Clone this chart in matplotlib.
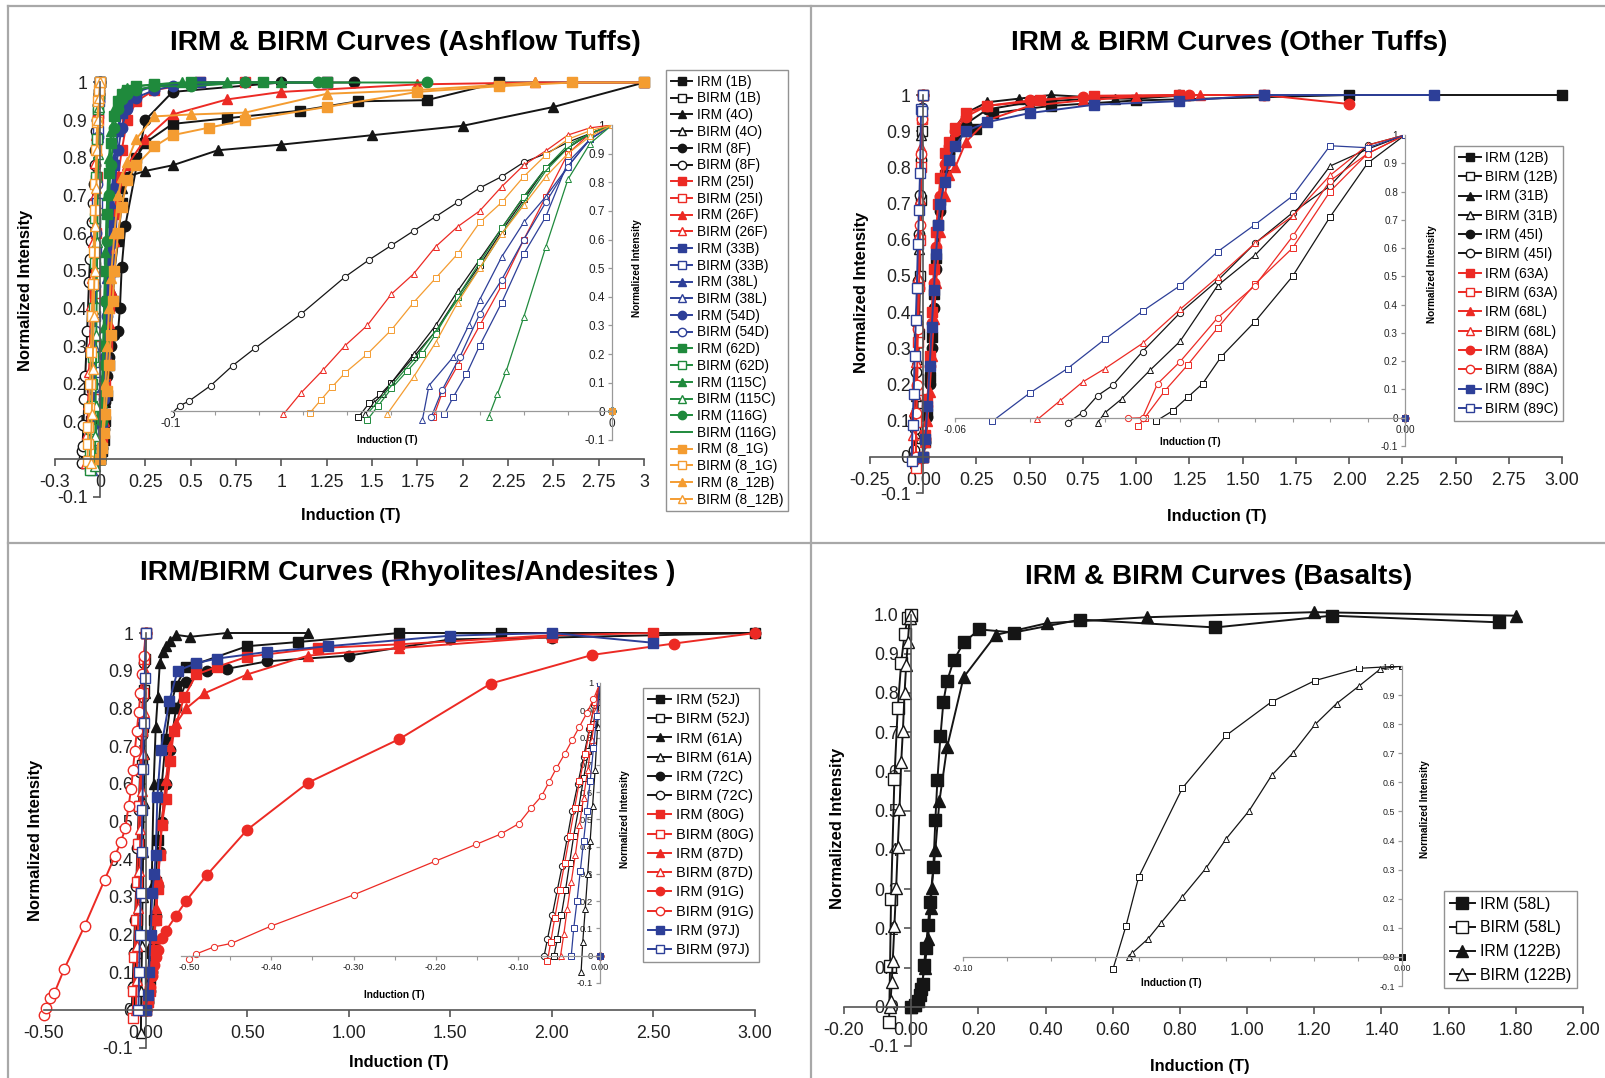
import matplotlib
matplotlib.use('Agg')
import matplotlib.pyplot as plt
from matplotlib import font_manager
from matplotlib.lines import Line2D

W, H = 1606, 1078

# ---------------- data: Ashflow Tuffs ----------------
irm_1b_x = [0, 0.01, 0.02, 0.03, 0.04, 0.05, 0.06, 0.07, 0.08, 0.1, 0.12, 0.15, 0.2, 0.25, 0.4, 0.7, 1.1, 1.42, 1.8, 2.2, 3.0]
irm_1b_y = [0, 0.02, 0.05, 0.1, 0.17, 0.25, 0.33, 0.42, 0.5, 0.58, 0.68, 0.75, 0.8, 0.84, 0.89, 0.905, 0.925, 0.95, 0.953, 1.0, 1.0]
birm_1b_x = [-0.0575, -0.055, -0.0525, -0.05, -0.045, -0.04, -0.035, -0.03, -0.025, -0.02, -0.015, -0.01, -0.005, 0]
birm_1b_y = [-0.02, 0.03, 0.06, 0.1, 0.19, 0.28, 0.4, 0.51, 0.63, 0.74, 0.85, 0.92, 0.97, 1.0]
irm_4o_x = [0, 0.01, 0.02, 0.03, 0.04, 0.05, 0.06, 0.08, 0.1, 0.12, 0.15, 0.25, 0.4, 0.65, 1.0, 1.5, 2.0, 2.5, 3.0]
irm_4o_y = [0, 0.03, 0.08, 0.15, 0.25, 0.35, 0.45, 0.6, 0.68, 0.72, 0.75, 0.765, 0.78, 0.82, 0.835, 0.86, 0.885, 0.935, 1.0]
birm_4o_x = [-0.056, -0.054, -0.052, -0.05, -0.045, -0.04, -0.035, -0.03, -0.025, -0.02, -0.015, -0.01, -0.005, 0]
birm_4o_y = [-0.01, 0.03, 0.06, 0.1, 0.2, 0.3, 0.42, 0.53, 0.64, 0.75, 0.85, 0.92, 0.97, 1.0]
irm_8f_x = [0, 0.01, 0.02, 0.03, 0.04, 0.05, 0.06, 0.08, 0.1, 0.11, 0.12, 0.14, 0.25, 0.4, 1.0, 1.4]
irm_8f_y = [0, 0.03, 0.08, 0.15, 0.22, 0.27, 0.3, 0.33, 0.34, 0.4, 0.51, 0.62, 0.9, 0.975, 1.0, 1.0]
birm_8f_x = [-0.1, -0.098, -0.096, -0.091, -0.086, -0.081, -0.0705, -0.0605, -0.055, -0.05, -0.045, -0.04, -0.035, -0.03, -0.025, -0.02, -0.015, -0.01, -0.005, 0]
birm_8f_y = [-0.01, 0.02, 0.035, 0.09, 0.16, 0.22, 0.34, 0.47, 0.53, 0.58, 0.63, 0.68, 0.73, 0.78, 0.82, 0.87, 0.9, 0.94, 0.97, 1.0]
irm_25i_x = [0, 0.01, 0.02, 0.03, 0.04, 0.05, 0.06, 0.08, 0.1, 0.12, 0.15, 0.2, 0.3, 0.55, 0.8, 1.25]
irm_25i_y = [0, 0.05, 0.12, 0.2, 0.3, 0.4, 0.5, 0.65, 0.75, 0.82, 0.9, 0.95, 0.98, 1.0, 1.0, 1.0]
birm_25i_x = [-0.0405, -0.0385, -0.035, -0.03, -0.025, -0.02, -0.015, -0.01, -0.005, 0]
birm_25i_y = [-0.02, 0.065, 0.16, 0.3, 0.44, 0.6, 0.75, 0.9, 0.97, 1.0]
irm_26f_x = [0, 0.01, 0.02, 0.03, 0.04, 0.05, 0.06, 0.08, 0.1, 0.12, 0.15, 0.25, 0.4, 0.7, 1.0, 1.75, 2.4, 3.0]
irm_26f_y = [0, 0.04, 0.1, 0.18, 0.27, 0.36, 0.45, 0.58, 0.68, 0.74, 0.78, 0.85, 0.915, 0.955, 0.975, 0.995, 1.0, 1.0]
birm_26f_x = [-0.0745, -0.0705, -0.0655, -0.0605, -0.0555, -0.05, -0.045, -0.04, -0.035, -0.03, -0.025, -0.02, -0.015, -0.01, -0.005, 0]
birm_26f_y = [-0.01, 0.065, 0.145, 0.23, 0.3, 0.41, 0.48, 0.575, 0.645, 0.7, 0.785, 0.86, 0.91, 0.965, 0.99, 1.0]
irm_33b_x = [0, 0.01, 0.02, 0.03, 0.04, 0.05, 0.06, 0.08, 0.1, 0.12, 0.15, 0.2, 0.3, 0.55, 1.25]
irm_33b_y = [0, 0.08, 0.18, 0.3, 0.42, 0.53, 0.63, 0.78, 0.87, 0.92, 0.95, 0.975, 0.99, 1.0, 1.0]
birm_33b_x = [-0.038, -0.036, -0.033, -0.03, -0.025, -0.02, -0.015, -0.01, -0.005, 0]
birm_33b_y = [-0.01, 0.05, 0.13, 0.23, 0.38, 0.55, 0.68, 0.87, 0.95, 1.0]
irm_38l_x = [0, 0.01, 0.02, 0.03, 0.04, 0.05, 0.06, 0.08, 0.1, 0.12, 0.15, 0.2, 0.3, 0.55, 1.25]
irm_38l_y = [0, 0.1, 0.22, 0.35, 0.48, 0.58, 0.68, 0.8, 0.88, 0.93, 0.96, 0.98, 0.99, 1.0, 1.0]
birm_38l_x = [-0.043, -0.0415, -0.036, -0.0325, -0.03, -0.025, -0.02, -0.015, -0.01, -0.005, 0]
birm_38l_y = [-0.03, 0.09, 0.19, 0.3, 0.39, 0.54, 0.66, 0.75, 0.855, 0.95, 1.0]
irm_54d_x = [0, 0.01, 0.02, 0.03, 0.04, 0.05, 0.06, 0.08, 0.1, 0.12, 0.15, 0.2, 0.3, 0.4, 0.8]
irm_54d_y = [0, 0.07, 0.16, 0.27, 0.38, 0.48, 0.57, 0.72, 0.82, 0.88, 0.93, 0.96, 0.98, 0.99, 1.0]
birm_54d_x = [-0.041, -0.0385, -0.0345, -0.03, -0.025, -0.02, -0.015, -0.01, -0.005, 0]
birm_54d_y = [-0.02, 0.075, 0.19, 0.34, 0.46, 0.6, 0.73, 0.855, 0.95, 1.0]
irm_62d_x = [0, 0.01, 0.02, 0.03, 0.04, 0.05, 0.06, 0.08, 0.1, 0.12, 0.15, 0.2, 0.3, 0.5, 0.9, 1.25]
irm_62d_y = [0, 0.12, 0.3, 0.5, 0.65, 0.76, 0.84, 0.91, 0.95, 0.97, 0.98, 0.99, 0.995, 1.0, 1.0, 1.0]
birm_62d_x = [-0.0555, -0.053, -0.05, -0.0465, -0.043, -0.04, -0.035, -0.03, -0.025, -0.02, -0.015, -0.01, -0.005, 0]
birm_62d_y = [-0.03, 0.02, 0.08, 0.14, 0.2, 0.27, 0.4, 0.52, 0.64, 0.75, 0.85, 0.93, 0.97, 1.0]
irm_115c_x = [0, 0.01, 0.02, 0.03, 0.04, 0.05, 0.06, 0.08, 0.1, 0.12, 0.15, 0.2, 0.3, 0.45, 0.7, 1.0]
irm_115c_y = [0, 0.15, 0.35, 0.55, 0.7, 0.8, 0.87, 0.93, 0.96, 0.975, 0.985, 0.99, 0.995, 1.0, 1.0, 1.0]
birm_115c_x = [-0.028, -0.026, -0.024, -0.02, -0.015, -0.01, -0.005, 0]
birm_115c_y = [-0.02, 0.06, 0.14, 0.33, 0.575, 0.81, 0.935, 1.0]
irm_116g_x = [0, 0.01, 0.02, 0.03, 0.04, 0.05, 0.06, 0.08, 0.1, 0.12, 0.15, 0.2, 0.3, 0.5, 0.8, 1.2, 1.8]
irm_116g_y = [0, 0.1, 0.25, 0.42, 0.58, 0.7, 0.78, 0.88, 0.93, 0.955, 0.97, 0.98, 0.99, 0.99, 1.0, 1.0, 1.0]
birm_116g_x = [-0.055, -0.05, -0.045, -0.04, -0.035, -0.03, -0.025, -0.02, -0.015, -0.01, -0.005, 0]
birm_116g_y = [0, 0.09, 0.18, 0.28, 0.39, 0.5, 0.62, 0.73, 0.84, 0.92, 0.97, 1.0]
irm_8_1g_x = [0, 0.01, 0.02, 0.03, 0.04, 0.05, 0.06, 0.07, 0.08, 0.1, 0.12, 0.15, 0.2, 0.3, 0.4, 0.6, 0.8, 1.25, 1.75, 2.2, 2.6, 3.0]
irm_8_1g_y = [0, 0.03, 0.07, 0.12, 0.18, 0.25, 0.33, 0.42, 0.5, 0.6, 0.67, 0.74, 0.78, 0.83, 0.86, 0.88, 0.9, 0.935, 0.975, 0.99, 1.0, 1.0]
birm_8_1g_x = [-0.0685, -0.066, -0.0635, -0.0605, -0.0555, -0.05, -0.045, -0.04, -0.035, -0.03, -0.025, -0.02, -0.015, -0.01, -0.005, 0]
birm_8_1g_y = [-0.005, 0.04, 0.085, 0.135, 0.2, 0.285, 0.38, 0.465, 0.55, 0.66, 0.73, 0.82, 0.895, 0.95, 0.98, 1.0]
irm_8_12b_x = [0, 0.01, 0.02, 0.03, 0.04, 0.05, 0.06, 0.08, 0.1, 0.12, 0.15, 0.2, 0.3, 0.5, 0.8, 1.25, 1.75, 2.4]
irm_8_12b_y = [0, 0.05, 0.12, 0.2, 0.3, 0.4, 0.48, 0.6, 0.7, 0.75, 0.79, 0.85, 0.91, 0.915, 0.92, 0.97, 0.98, 1.0]
birm_8_12b_x = [-0.051, -0.045, -0.04, -0.035, -0.03, -0.025, -0.02, -0.015, -0.01, -0.005, 0]
birm_8_12b_y = [-0.01, 0.12, 0.24, 0.38, 0.5, 0.62, 0.72, 0.82, 0.9, 0.96, 1.0]

# ---------------- data: Other Tuffs ----------------
irm_12b_x = [0, 0.01, 0.02, 0.03, 0.04, 0.05, 0.06, 0.07, 0.08, 0.1, 0.12, 0.15, 0.2, 0.25, 0.33, 0.6, 1.0, 2.0, 3.0]
irm_12b_y = [0, 0.04, 0.12, 0.22, 0.33, 0.45, 0.55, 0.64, 0.71, 0.78, 0.83, 0.87, 0.9, 0.905, 0.95, 0.97, 0.985, 1.0, 1.0]
birm_12b_x = [-0.0332, -0.031, -0.029, -0.027, -0.0245, -0.02, -0.015, -0.01, -0.005, 0]
birm_12b_y = [-0.012, 0.024, 0.072, 0.12, 0.216, 0.34, 0.5, 0.71, 0.9, 1.0]
irm_31b_x = [0, 0.01, 0.02, 0.03, 0.04, 0.05, 0.06, 0.08, 0.1, 0.12, 0.15, 0.2, 0.3, 0.45, 0.6, 0.9, 1.0, 1.25]
irm_31b_y = [0, 0.05, 0.13, 0.24, 0.36, 0.48, 0.58, 0.72, 0.82, 0.87, 0.91, 0.95, 0.98, 0.99, 1.0, 0.99, 0.99, 1.0]
birm_31b_x = [-0.041, -0.04, -0.0378, -0.034, -0.03, -0.025, -0.02, -0.015, -0.01, -0.005, 0]
birm_31b_y = [-0.018, 0.018, 0.066, 0.168, 0.27, 0.467, 0.575, 0.713, 0.89, 0.95, 1.0]
irm_45i_x = [0, 0.01, 0.02, 0.03, 0.04, 0.05, 0.06, 0.08, 0.1, 0.12, 0.15, 0.2, 0.3, 0.5, 0.8, 1.2]
irm_45i_y = [0, 0.04, 0.11, 0.2, 0.3, 0.41, 0.52, 0.68, 0.78, 0.84, 0.88, 0.92, 0.96, 0.98, 0.99, 1.0]
birm_45i_x = [-0.045, -0.043, -0.041, -0.039, -0.035, -0.03, -0.025, -0.02, -0.015, -0.01, -0.005, 0]
birm_45i_y = [-0.018, 0.018, 0.078, 0.114, 0.234, 0.371, 0.485, 0.617, 0.725, 0.82, 0.964, 1.0]
irm_63a_x = [0, 0.01, 0.02, 0.03, 0.04, 0.05, 0.06, 0.07, 0.08, 0.1, 0.12, 0.15, 0.2, 0.3, 0.55, 0.8, 1.2, 1.6]
irm_63a_y = [0, 0.06, 0.16, 0.28, 0.4, 0.52, 0.62, 0.7, 0.77, 0.84, 0.87, 0.91, 0.95, 0.97, 0.985, 0.998, 1.0, 1.0]
birm_63a_x = [-0.0356, -0.0347, -0.032, -0.029, -0.025, -0.02, -0.015, -0.01, -0.005, 0]
birm_63a_y = [-0.03, 0.0, 0.096, 0.186, 0.317, 0.473, 0.6, 0.8, 0.934, 1.0]
irm_68l_x = [0, 0.01, 0.02, 0.03, 0.04, 0.05, 0.06, 0.08, 0.1, 0.12, 0.15, 0.2, 0.3, 0.5, 0.75, 1.0, 1.3]
irm_68l_y = [0, 0.04, 0.1, 0.18, 0.28, 0.38, 0.48, 0.62, 0.72, 0.78, 0.8, 0.87, 0.93, 0.97, 0.985, 0.995, 1.0]
birm_68l_x = [-0.049, -0.046, -0.043, -0.04, -0.035, -0.03, -0.025, -0.02, -0.015, -0.01, -0.005, 0]
birm_68l_y = [-0.006, 0.06, 0.126, 0.174, 0.263, 0.383, 0.497, 0.617, 0.713, 0.857, 0.964, 1.0]
irm_88a_x = [0, 0.01, 0.02, 0.03, 0.04, 0.05, 0.06, 0.08, 0.1, 0.12, 0.15, 0.2, 0.3, 0.5, 0.75, 1.25, 1.6, 2.0]
irm_88a_y = [0, 0.05, 0.14, 0.25, 0.37, 0.48, 0.58, 0.72, 0.81, 0.86, 0.9, 0.94, 0.97, 0.985, 0.995, 1.0, 1.0, 0.975]
birm_88a_x = [-0.037, -0.035, -0.033, -0.03, -0.025, -0.02, -0.015, -0.01, -0.005, 0]
birm_88a_y = [-0.002, 0.0, 0.12, 0.198, 0.353, 0.467, 0.641, 0.838, 0.934, 1.0]
irm_89c_x = [0, 0.01, 0.02, 0.03, 0.04, 0.05, 0.06, 0.07, 0.08, 0.1, 0.12, 0.15, 0.2, 0.3, 0.5, 0.8, 1.2, 1.6, 2.4]
irm_89c_y = [0, 0.05, 0.14, 0.25, 0.36, 0.46, 0.56, 0.64, 0.7, 0.76, 0.82, 0.86, 0.9, 0.925, 0.95, 0.973, 0.983, 1.0, 1.0]
birm_89c_x = [-0.055, -0.05, -0.045, -0.04, -0.035, -0.03, -0.025, -0.02, -0.015, -0.01, -0.005, 0]
birm_89c_y = [-0.012, 0.088, 0.174, 0.278, 0.377, 0.467, 0.587, 0.683, 0.784, 0.962, 0.955, 1.0]

# ---------------- data: Rhyolites / Andesites ----------------
irm_52j_x = [0, 0.01, 0.02, 0.03, 0.04, 0.05, 0.06, 0.08, 0.1, 0.12, 0.15, 0.2, 0.25, 0.5, 0.75, 1.25, 1.75, 3.0]
irm_52j_y = [0, 0.03, 0.08, 0.15, 0.24, 0.34, 0.45, 0.6, 0.72, 0.8, 0.86, 0.91, 0.918, 0.965, 0.976, 1.0, 1.0, 1.0]
birm_52j_x = [-0.056, -0.052, -0.047, -0.042, -0.037, -0.032, -0.026, -0.02, -0.014, -0.008, -0.004, 0]
birm_52j_y = [0.0, 0.06, 0.15, 0.24, 0.34, 0.44, 0.54, 0.65, 0.75, 0.85, 0.93, 1.0]
irm_61a_x = [0, 0.01, 0.02, 0.03, 0.04, 0.05, 0.06, 0.07, 0.085, 0.1, 0.12, 0.15, 0.22, 0.4, 0.8]
irm_61a_y = [0, 0.06, 0.17, 0.33, 0.6, 0.75, 0.83, 0.92, 0.95, 0.965, 0.98, 0.995, 0.99, 1.0, 1.0]
birm_61a_x = [-0.023, -0.021, -0.018, -0.015, -0.012, -0.009, -0.006, -0.003, 0]
birm_61a_y = [-0.06, 0.05, 0.17, 0.3, 0.42, 0.55, 0.68, 0.84, 1.0]
irm_72c_x = [0, 0.01, 0.02, 0.03, 0.04, 0.05, 0.06, 0.07, 0.08, 0.1, 0.12, 0.15, 0.2, 0.3, 0.4, 0.6, 1.0, 1.5, 2.0, 3.0]
irm_72c_y = [0, 0.02, 0.05, 0.1, 0.17, 0.25, 0.33, 0.42, 0.5, 0.6, 0.69, 0.8, 0.87, 0.9, 0.905, 0.925, 0.94, 0.983, 0.988, 1.0]
birm_72c_x = [-0.068, -0.064, -0.058, -0.052, -0.046, -0.04, -0.034, -0.027, -0.02, -0.013, -0.007, 0]
birm_72c_y = [0.0, 0.06, 0.15, 0.24, 0.33, 0.43, 0.53, 0.63, 0.73, 0.83, 0.92, 1.0]
irm_80g_x = [0, 0.01, 0.02, 0.03, 0.04, 0.05, 0.06, 0.07, 0.08, 0.1, 0.12, 0.14, 0.19, 0.25, 0.35, 0.5, 0.85, 1.25, 2.0, 2.5]
irm_80g_y = [0, 0.02, 0.05, 0.1, 0.16, 0.24, 0.32, 0.41, 0.49, 0.56, 0.66, 0.74, 0.83, 0.89, 0.91, 0.937, 0.96, 0.97, 0.994, 1.0]
birm_80g_x = [-0.064, -0.06, -0.055, -0.049, -0.043, -0.037, -0.031, -0.025, -0.018, -0.012, -0.006, 0]
birm_80g_y = [-0.02, 0.05, 0.14, 0.24, 0.34, 0.44, 0.54, 0.64, 0.74, 0.84, 0.93, 1.0]
irm_87d_x = [0, 0.01, 0.02, 0.03, 0.04, 0.05, 0.06, 0.08, 0.1, 0.12, 0.15, 0.2, 0.29, 0.5, 0.8, 1.25, 2.0]
irm_87d_y = [0, 0.02, 0.06, 0.12, 0.19, 0.27, 0.35, 0.5, 0.61, 0.7, 0.76, 0.8, 0.84, 0.89, 0.94, 0.96, 0.99]
birm_87d_x = [-0.048, -0.044, -0.04, -0.035, -0.03, -0.025, -0.02, -0.015, -0.01, -0.005, 0]
birm_87d_y = [0.0, 0.08, 0.17, 0.27, 0.37, 0.48, 0.58, 0.68, 0.79, 0.9, 1.0]
irm_91g_x = [0, 0.01, 0.02, 0.03, 0.04, 0.05, 0.06, 0.08, 0.1, 0.15, 0.2, 0.3, 0.5, 0.8, 1.25, 1.7, 2.2, 2.6, 3.0]
irm_91g_y = [0, 0.03, 0.06, 0.09, 0.12, 0.14, 0.16, 0.19, 0.21, 0.25, 0.29, 0.357, 0.478, 0.603, 0.719, 0.866, 0.942, 0.972, 1.0]
birm_91g_x = [-0.5, -0.492, -0.47, -0.449, -0.401, -0.3, -0.201, -0.151, -0.121, -0.099, -0.084, -0.071, -0.062, -0.053, -0.043, -0.034, -0.025, -0.016, -0.008, 0]
birm_91g_y = [-0.013, 0.006, 0.032, 0.045, 0.108, 0.223, 0.346, 0.408, 0.446, 0.484, 0.541, 0.586, 0.637, 0.688, 0.74, 0.79, 0.84, 0.89, 0.94, 1.0]
irm_97j_x = [0, 0.01, 0.017, 0.025, 0.033, 0.042, 0.05, 0.058, 0.075, 0.117, 0.158, 0.25, 0.35, 0.6, 0.9, 1.5, 2.0, 2.5]
irm_97j_y = [0, 0.04, 0.1, 0.2, 0.31, 0.36, 0.41, 0.566, 0.69, 0.82, 0.9, 0.92, 0.932, 0.95, 0.965, 0.993, 1.0, 0.974]
birm_97j_x = [-0.035, -0.032, -0.028, -0.024, -0.02, -0.016, -0.012, -0.008, -0.004, 0]
birm_97j_y = [0.0, 0.1, 0.2, 0.31, 0.42, 0.53, 0.64, 0.76, 0.88, 1.0]

# ---------------- data: Basalts ----------------
irm_58l_x = [0, 0.01, 0.02, 0.026, 0.03, 0.034, 0.038, 0.044, 0.05, 0.056, 0.066, 0.072, 0.078, 0.087, 0.096, 0.107, 0.127, 0.157, 0.203, 0.305, 0.504, 0.905, 1.252, 1.751]
irm_58l_y = [0, 0.005, 0.015, 0.031, 0.045, 0.058, 0.107, 0.151, 0.209, 0.267, 0.356, 0.476, 0.578, 0.689, 0.778, 0.831, 0.884, 0.929, 0.962, 0.954, 0.987, 0.967, 0.997, 0.98]
birm_58l_x = [-0.0658, -0.0629, -0.06, -0.05, -0.04, -0.0297, -0.0198, -0.0098, 0]
birm_58l_y = [-0.04, 0.105, 0.274, 0.581, 0.762, 0.877, 0.95, 0.992, 1.0]
irm_122b_x = [0, 0.01, 0.02, 0.03, 0.04, 0.05, 0.058, 0.061, 0.072, 0.084, 0.107, 0.156, 0.252, 0.405, 0.702, 1.2, 1.8]
irm_122b_y = [0, 0.005, 0.02, 0.05, 0.1, 0.173, 0.253, 0.302, 0.4, 0.524, 0.662, 0.84, 0.948, 0.978, 0.993, 1.006, 0.997]
birm_122b_x = [-0.0623, -0.0614, -0.0578, -0.0549, -0.05, -0.0447, -0.04, -0.0348, -0.0297, -0.0248, -0.0198, -0.0149, -0.0098, -0.0049, 0]
birm_122b_y = [0, 0.014, 0.063, 0.117, 0.207, 0.304, 0.407, 0.503, 0.624, 0.702, 0.799, 0.871, 0.931, 0.99, 1.0]

# tick labels
ash_xticks = [-0.25, 0, 0.25, 0.5, 0.75, 1, 1.25, 1.5, 1.75, 2, 2.25, 2.5, 2.75, 3]
ash_xlabels = ['-0.3', '0', '0.25', '0.5', '0.75', '1', '1.25', '1.5', '1.75', '2', '2.25', '2.5', '2.75', '3']
oth_xticks = [-0.25, 0, 0.25, 0.5, 0.75, 1, 1.25, 1.5, 1.75, 2, 2.25, 2.5, 2.75, 3]
oth_xlabels = ['-0.25', '0.00', '0.25', '0.50', '0.75', '1.00', '1.25', '1.50', '1.75', '2.00', '2.25', '2.50', '2.75', '3.00']
rhy_xticks = [-0.5, 0, 0.5, 1, 1.5, 2, 2.5, 3]
rhy_xlabels = ['-0.50', '0.00', '0.50', '1.00', '1.50', '2.00', '2.50', '3.00']
bas_xticks = [-0.2, 0, 0.2, 0.4, 0.6, 0.8, 1.0, 1.2, 1.4, 1.6, 1.8, 2.0]
bas_xlabels = ['-0.20', '0.00', '0.20', '0.40', '0.60', '0.80', '1.00', '1.20', '1.40', '1.60', '1.80', '2.00']
yticks = [-0.1, 0, 0.1, 0.2, 0.3, 0.4, 0.5, 0.6, 0.7, 0.8, 0.9, 1.0]
ylabels_short = ['-0.1', '0', '0.1', '0.2', '0.3', '0.4', '0.5', '0.6', '0.7', '0.8', '0.9', '1']
ylabels_long = ['-0.1', '0.0', '0.1', '0.2', '0.3', '0.4', '0.5', '0.6', '0.7', '0.8', '0.9', '1.0']

BLACK = '#151515'
RED = '#ec2a24'
BLUE = '#2d3f98'
GREEN = '#1f8a3c'
ORANGE = '#f49c31'

ash_series = [
    ('IRM (1B)', irm_1b_x, irm_1b_y, BLACK, 's', True),
    ('BIRM (1B)', birm_1b_x, birm_1b_y, BLACK, 's', False),
    ('IRM (4O)', irm_4o_x, irm_4o_y, BLACK, '^', True),
    ('BIRM (4O)', birm_4o_x, birm_4o_y, BLACK, '^', False),
    ('IRM (8F)', irm_8f_x, irm_8f_y, BLACK, 'o', True),
    ('BIRM (8F)', birm_8f_x, birm_8f_y, BLACK, 'o', False),
    ('IRM (25I)', irm_25i_x, irm_25i_y, RED, 's', True),
    ('BIRM (25I)', birm_25i_x, birm_25i_y, RED, 's', False),
    ('IRM (26F)', irm_26f_x, irm_26f_y, RED, '^', True),
    ('BIRM (26F)', birm_26f_x, birm_26f_y, RED, '^', False),
    ('IRM (33B)', irm_33b_x, irm_33b_y, BLUE, 's', True),
    ('BIRM (33B)', birm_33b_x, birm_33b_y, BLUE, 's', False),
    ('IRM (38L)', irm_38l_x, irm_38l_y, BLUE, '^', True),
    ('BIRM (38L)', birm_38l_x, birm_38l_y, BLUE, '^', False),
    ('IRM (54D)', irm_54d_x, irm_54d_y, BLUE, 'o', True),
    ('BIRM (54D)', birm_54d_x, birm_54d_y, BLUE, 'o', False),
    ('IRM (62D)', irm_62d_x, irm_62d_y, GREEN, 's', True),
    ('BIRM (62D)', birm_62d_x, birm_62d_y, GREEN, 's', False),
    ('IRM (115C)', irm_115c_x, irm_115c_y, GREEN, '^', True),
    ('BIRM (115C)', birm_115c_x, birm_115c_y, GREEN, '^', False),
    ('IRM (116G)', irm_116g_x, irm_116g_y, GREEN, 'o', True),
    ('BIRM (116G)', birm_116g_x, birm_116g_y, GREEN, '', False),
    ('IRM (8_1G)', irm_8_1g_x, irm_8_1g_y, ORANGE, 's', True),
    ('BIRM (8_1G)', birm_8_1g_x, birm_8_1g_y, ORANGE, 's', False),
    ('IRM (8_12B)', irm_8_12b_x, irm_8_12b_y, ORANGE, '^', True),
    ('BIRM (8_12B)', birm_8_12b_x, birm_8_12b_y, ORANGE, '^', False),
]
oth_series = [
    ('IRM (12B)', irm_12b_x, irm_12b_y, BLACK, 's', True),
    ('BIRM (12B)', birm_12b_x, birm_12b_y, BLACK, 's', False),
    ('IRM (31B)', irm_31b_x, irm_31b_y, BLACK, '^', True),
    ('BIRM (31B)', birm_31b_x, birm_31b_y, BLACK, '^', False),
    ('IRM (45I)', irm_45i_x, irm_45i_y, BLACK, 'o', True),
    ('BIRM (45I)', birm_45i_x, birm_45i_y, BLACK, 'o', False),
    ('IRM (63A)', irm_63a_x, irm_63a_y, RED, 's', True),
    ('BIRM (63A)', birm_63a_x, birm_63a_y, RED, 's', False),
    ('IRM (68L)', irm_68l_x, irm_68l_y, RED, '^', True),
    ('BIRM (68L)', birm_68l_x, birm_68l_y, RED, '^', False),
    ('IRM (88A)', irm_88a_x, irm_88a_y, RED, 'o', True),
    ('BIRM (88A)', birm_88a_x, birm_88a_y, RED, 'o', False),
    ('IRM (89C)', irm_89c_x, irm_89c_y, BLUE, 's', True),
    ('BIRM (89C)', birm_89c_x, birm_89c_y, BLUE, 's', False),
]
rhy_series = [
    ('IRM (52J)', irm_52j_x, irm_52j_y, BLACK, 's', True),
    ('BIRM (52J)', birm_52j_x, birm_52j_y, BLACK, 's', False),
    ('IRM (61A)', irm_61a_x, irm_61a_y, BLACK, '^', True),
    ('BIRM (61A)', birm_61a_x, birm_61a_y, BLACK, '^', False),
    ('IRM (72C)', irm_72c_x, irm_72c_y, BLACK, 'o', True),
    ('BIRM (72C)', birm_72c_x, birm_72c_y, BLACK, 'o', False),
    ('IRM (80G)', irm_80g_x, irm_80g_y, RED, 's', True),
    ('BIRM (80G)', birm_80g_x, birm_80g_y, RED, 's', False),
    ('IRM (87D)', irm_87d_x, irm_87d_y, RED, '^', True),
    ('BIRM (87D)', birm_87d_x, birm_87d_y, RED, '^', False),
    ('IRM (91G)', irm_91g_x, irm_91g_y, RED, 'o', True),
    ('BIRM (91G)', birm_91g_x, birm_91g_y, RED, 'o', False),
    ('IRM (97J)', irm_97j_x, irm_97j_y, BLUE, 's', True),
    ('BIRM (97J)', birm_97j_x, birm_97j_y, BLUE, 's', False),
]
bas_series = [
    ('IRM (58L)', irm_58l_x, irm_58l_y, BLACK, 's', True),
    ('BIRM (58L)', birm_58l_x, birm_58l_y, BLACK, 's', False),
    ('IRM (122B)', irm_122b_x, irm_122b_y, BLACK, '^', True),
    ('BIRM (122B)', birm_122b_x, birm_122b_y, BLACK, '^', False),
]

# fonts: the scan uses a narrow Arial-like face
names = {f.name for f in font_manager.fontManager.ttflist}
if 'Liberation Sans Narrow' in names:
    FAMILY, K = 'Liberation Sans Narrow', 1.0
else:
    FAMILY, K = 'Liberation Sans', 0.85
plt.rcParams['font.family'] = [FAMILY, 'DejaVu Sans']

fig = plt.figure(figsize=(W / 100, H / 100), dpi=100)


def rect(l, t, r, b):
    return [l / W, 1 - b / H, (r - l) / W, (b - t) / H]


def fpos(x, y):
    return x / W, 1 - y / H


def cross_axes(ax, xlim, ticks_x, labels_x, ticks_y, labels_y, fs, color, lw, ln, pad):
    ax.set_xlim(*xlim)
    ax.set_ylim(-0.1, 1.0)
    ax.patch.set_visible(False)
    ax.spines['top'].set_visible(False)
    ax.spines['right'].set_visible(False)
    ax.spines['left'].set_position(('data', 0))
    ax.spines['bottom'].set_position(('data', 0))
    for s in ('left', 'bottom'):
        ax.spines[s].set_color(color)
        ax.spines[s].set_linewidth(lw)
    ax.set_xticks(ticks_x, labels_x)
    ax.set_yticks(ticks_y, labels_y)
    ax.tick_params(labelsize=fs * K, color=color, width=lw, length=ln, pad=pad, labelcolor='#222222')


def set_labels(ax, xl_pos, yl_pos, fs):
    ax.set_xlabel('Induction (T)', fontsize=fs * K, fontweight='bold')
    ax.set_ylabel('Normalized Intensity', fontsize=fs * K, fontweight='bold')
    ax.xaxis.set_label_coords(*fpos(*xl_pos), transform=fig.transFigure)
    ax.yaxis.set_label_coords(*fpos(*yl_pos), transform=fig.transFigure)
    ax.xaxis.label.set_va('center')
    ax.yaxis.label.set_va('center')
    ax.yaxis.label.set_ha('center')


def panel(series, title, title_pos, main_box, xlim, xt, xl, ylab, main_xl, main_yl,
          inset_box, in_xlim, in_xt, in_xl, in_minor, in_fs, in_xlpos, in_ylpos,
          leg_pos, leg_fs, leg_space, msize=7.5, leg_scale=0.8):
    fig.text(*fpos(*title_pos), title, ha='center', va='center', fontsize=23.7 * K, fontweight='bold')

    ax = fig.add_axes(rect(*main_box))
    cross_axes(ax, xlim, xt, xl, yticks, ylab, 15, '#555555', 1.2, 5, 4)
    ax.tick_params(axis='x', pad=6)
    set_labels(ax, main_xl, main_yl, 14)

    ins = fig.add_axes(rect(*inset_box))
    cross_axes(ins, in_xlim, in_xt, in_xl, yticks, ylab, in_fs, '#999999', 0.9, 3, 2)
    ins.set_xticks(in_minor, minor=True)
    ins.tick_params(which='minor', length=3, color='#999999', width=0.8)
    set_labels(ins, in_xlpos, in_ylpos, 8.5)

    handles = []
    for label, x, y, col, mk, filled in series:
        face = col if filled else 'white'
        h, = ax.plot(x, y, color=col, lw=1.4, marker=mk if mk else 'None', ms=msize,
                     mfc=face, mec=col, mew=1.0, clip_on=False, label=label)
        handles.append(h)
        if filled:
            xs = [v for v in x if v <= 0]
            ys = [w for v, w in zip(x, y) if v <= 0]
            ins.plot(xs, ys, color=col, lw=0.9, marker=mk, ms=5, mfc=face, mec=col,
                     mew=0.7, clip_on=False)
        else:
            ins.plot(x, y, color=col, lw=0.9, marker=mk if mk else 'None', ms=4.5,
                     mfc=face, mec=col, mew=0.7)

    leg = ax.legend(handles=handles, loc='upper left', bbox_to_anchor=fpos(*leg_pos),
                    bbox_transform=fig.transFigure, fontsize=leg_fs * K, frameon=True,
                    fancybox=False, edgecolor='#777777', borderaxespad=0, borderpad=0.35,
                    labelspacing=leg_space, handlelength=1.6, handletextpad=0.3,
                    markerscale=leg_scale)
    leg.get_frame().set_linewidth(1.0)
    return ax, ins


panel(ash_series, 'IRM & BIRM Curves (Ashflow Tuffs)', (405, 43),
      (54.6, 82.5, 644.2, 496.6), (-0.25, 3.0), ash_xticks, ash_xlabels, ylabels_short,
      (351, 515), (26, 290),
      (171, 125, 612, 440), (-0.1, 0.0), [-0.1, 0], ['-0.1', '0'],
      [-0.09, -0.08, -0.07, -0.06, -0.05, -0.04, -0.03, -0.02, -0.01], 10,
      (387, 440), (637, 268),
      (666, 70), 11.5, 0.2)

panel(oth_series, 'IRM & BIRM Curves (Other Tuffs)', (1229, 43),
      (870, 95, 1562, 493), (-0.25, 3.0), oth_xticks, oth_xlabels, ylabels_short,
      (1217, 517), (862, 292),
      (955, 135, 1405, 446), (-0.06, 0.0), [-0.06, 0], ['-0.06', '0.00'],
      [-0.055, -0.05, -0.045, -0.04, -0.035, -0.03, -0.025, -0.02, -0.015, -0.01, -0.005], 8.5,
      (1190, 442), (1432, 274),
      (1454, 146), 11.8, 0.38)

panel(rhy_series, 'IRM/BIRM Curves (Rhyolites/Andesites )', (408, 573),
      (44, 633, 755, 1047.7), (-0.5, 3.0), rhy_xticks, rhy_xlabels, ylabels_short,
      (399, 1062), (36, 840),
      (181, 683, 600, 983), (-0.51, 0.0), [-0.5, -0.4, -0.3, -0.2, -0.1, 0],
      ['-0.50', '-0.40', '-0.30', '-0.20', '-0.10', '0.00'],
      [-0.45, -0.35, -0.25, -0.15, -0.05], 8,
      (394, 995), (625, 819),
      (643, 688), 12.3, 0.36)

panel(bas_series, 'IRM & BIRM Curves (Basalts)', (1219, 577),
      (844, 614.5, 1583, 1046), (-0.2, 2.0), bas_xticks, bas_xlabels, ylabels_long,
      (1200, 1067), (838, 828),
      (963, 666, 1402, 986), (-0.1, 0.0), [-0.1, 0], ['-0.10', '0.00'],
      [-0.09, -0.08, -0.07, -0.06, -0.05, -0.04, -0.03, -0.02, -0.01], 7.5,
      (1171, 983), (1425, 809),
      (1444, 891), 13.5, 0.55, msize=8, leg_scale=1.0)

# panel frame lines of the scanned figure
for x0, y0, x1, y1 in [(8, 6, W, 6), (8, 6, 8, H), (811, 6, 811, H), (8, 543, W, 543)]:
    fig.add_artist(Line2D([x0 / W, x1 / W], [1 - y0 / H, 1 - y1 / H], transform=fig.transFigure,
                          color='#a8a8a8', lw=1.6))

fig.savefig('out.png', dpi=100)
